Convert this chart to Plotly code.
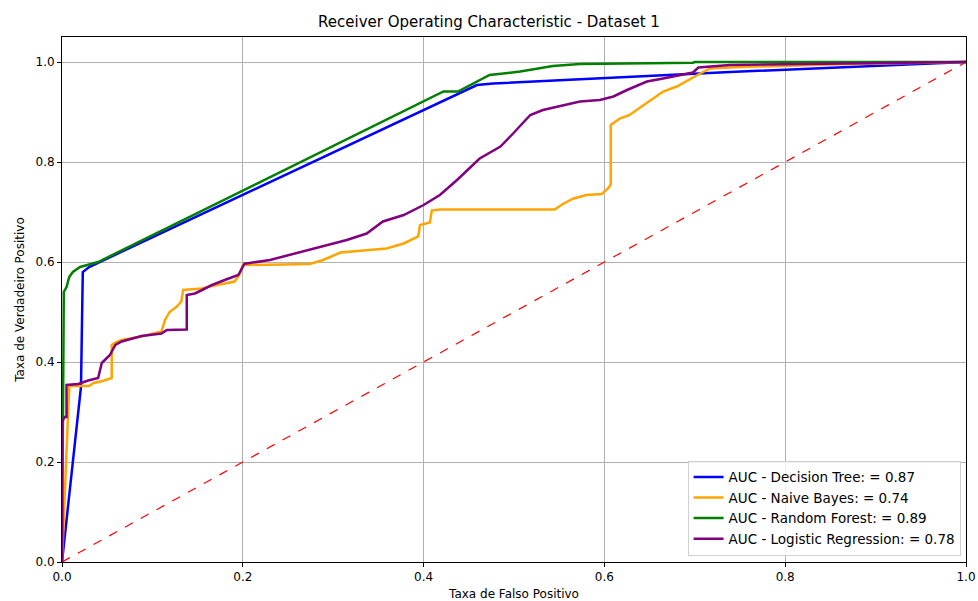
import plotly.graph_objects as go

# Decision Tree
dt_fpr = [0.0, 0.021, 0.023, 0.03, 0.459, 0.477, 0.739, 1.0]
dt_tpr = [0.0, 0.35, 0.58, 0.59, 0.954, 0.957, 0.98, 1.0]

# Naive Bayes
nb_fpr = [0.0, 0.008, 0.03, 0.035, 0.045, 0.055, 0.055, 0.06, 0.066, 0.088, 0.110, 0.114, 0.119,
          0.127, 0.132, 0.134, 0.155, 0.166, 0.191, 0.197, 0.2, 0.204, 0.274, 0.289, 0.308,
          0.337, 0.359, 0.378, 0.394, 0.396, 0.407, 0.409, 0.418, 0.545, 0.555, 0.566, 0.580,
          0.597, 0.604, 0.607, 0.607, 0.617, 0.628, 0.638, 0.654, 0.665, 0.680, 0.695, 0.706,
          0.717, 0.735, 0.75, 0.85, 1.0]
nb_tpr = [0.0, 0.352, 0.352, 0.358, 0.362, 0.368, 0.434, 0.44, 0.444, 0.451, 0.461, 0.484, 0.5,
          0.511, 0.521, 0.544, 0.547, 0.552, 0.561, 0.577, 0.594, 0.594, 0.596, 0.604, 0.619,
          0.623, 0.627, 0.637, 0.651, 0.674, 0.679, 0.703, 0.705, 0.705, 0.717, 0.727, 0.734,
          0.736, 0.747, 0.755, 0.874, 0.887, 0.894, 0.907, 0.927, 0.941, 0.951, 0.967, 0.977,
          0.987, 0.989, 0.99, 0.995, 1.0]

# Random Forest
rf_fpr = [0.0, 0.001, 0.002, 0.005, 0.008, 0.012, 0.02, 0.03, 0.04, 0.422, 0.438, 0.473,
          0.507, 0.543, 0.573, 0.698, 0.7, 1.0]
rf_tpr = [0.0, 0.3, 0.54, 0.55, 0.57, 0.58, 0.59, 0.595, 0.6, 0.941, 0.941, 0.974,
          0.981, 0.992, 0.996, 0.9987, 1.0, 1.0]

# Logistic Regression
lr_fpr = [0.0, 0.0, 0.003, 0.005, 0.005, 0.018, 0.029, 0.040, 0.044, 0.049, 0.053, 0.059,
          0.066, 0.088, 0.110, 0.116, 0.138, 0.138, 0.147, 0.155, 0.166, 0.180, 0.195, 0.202,
          0.204, 0.230, 0.252, 0.278, 0.289, 0.315, 0.337, 0.355, 0.378, 0.4, 0.418, 0.437,
          0.462, 0.485, 0.499, 0.518, 0.532, 0.558, 0.573, 0.595, 0.610, 0.625, 0.647, 0.665,
          0.684, 0.698, 0.704, 0.720, 0.739, 1.0]
lr_tpr = [0.0, 0.28, 0.29, 0.29, 0.354, 0.356, 0.363, 0.368, 0.398, 0.408, 0.414, 0.434,
          0.441, 0.452, 0.457, 0.464, 0.465, 0.534, 0.537, 0.544, 0.554, 0.564, 0.574, 0.597,
          0.597, 0.604, 0.614, 0.627, 0.631, 0.644, 0.657, 0.681, 0.694, 0.714, 0.734, 0.764,
          0.807, 0.831, 0.857, 0.894, 0.904, 0.914, 0.921, 0.924, 0.931, 0.944, 0.961, 0.967,
          0.974, 0.979, 0.989, 0.991, 0.994, 1.0]

names = ["AUC - Decision Tree: = 0.87", "AUC - Naive Bayes: = 0.74",
         "AUC - Random Forest: = 0.89", "AUC - Logistic Regression: = 0.78"]
colors = ["blue", "orange", "green", "purple"]
series = [(dt_fpr, dt_tpr), (nb_fpr, nb_tpr), (rf_fpr, rf_tpr), (lr_fpr, lr_tpr)]

fig = go.Figure()
fig.add_trace(go.Scatter(x=[0, 1], y=[0, 1], mode="lines", showlegend=False,
                         line=dict(color="red", width=1.2, dash="dash")))
for (fx, ty), n, c in zip(series, names, colors):
    fig.add_trace(go.Scatter(x=fx, y=ty, mode="lines", name=n,
                             line=dict(color=c, width=2.5)))

axis_common = dict(showgrid=True, gridcolor="#b0b0b0", gridwidth=1, showline=True,
                   linecolor="black", linewidth=1, mirror=True, ticks="outside",
                   ticklen=4, tickcolor="black", zeroline=False, automargin=False,
                   tickfont=dict(size=12, color="black"))
fig.update_xaxes(range=[0, 1], tickvals=[0, 0.2, 0.4, 0.6, 0.8, 1.0],
                 ticktext=["0.0", "0.2", "0.4", "0.6", "0.8", "1.0"],
                 title=dict(text="Taxa de Falso Positivo", font=dict(size=12, color="black"), standoff=8),
                 **axis_common)
fig.update_yaxes(range=[0, 1.05], tickvals=[0, 0.2, 0.4, 0.6, 0.8, 1.0],
                 ticktext=["0.0", "0.2", "0.4", "0.6", "0.8", "1.0"],
                 title=dict(text="Taxa de Verdadeiro Positivo", font=dict(size=12, color="black"), standoff=8),
                 **axis_common)
fig.update_layout(
    width=978, height=601,
    margin=dict(l=62, r=12, t=37, b=39),
    paper_bgcolor="white", plot_bgcolor="white",
    font=dict(family="DejaVu Sans", color="black"),
    title=dict(text="Receiver Operating Characteristic - Dataset 1", x=0.5, xanchor="center",
               y=1 - 22 / 601, yanchor="middle", font=dict(size=15, color="black")),
    legend=dict(x=0.994, y=0.012, xanchor="right", yanchor="bottom",
                bgcolor="rgba(255,255,255,0.8)", bordercolor="#d0d0d0", borderwidth=1,
                font=dict(size=13.5, color="black"), tracegroupgap=0),
)
fig.write_html("out.html")
